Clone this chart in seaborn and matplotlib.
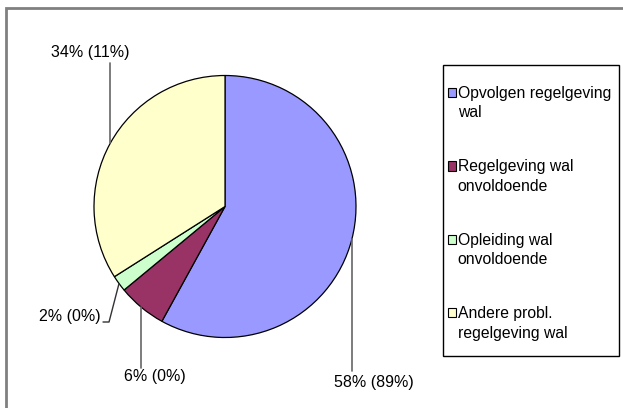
import numpy as np
import matplotlib
matplotlib.use("Agg")
import matplotlib.pyplot as plt
import seaborn as sns
from matplotlib.patches import Patch, Rectangle
from matplotlib.legend_handler import HandlerPatch

# data
categorieen = ["Opvolgen regelgeving\nwal", "Regelgeving wal\nonvoldoende",
               "Opleiding wal\nonvoldoende", "Andere probl.\nregelgeving wal"]
aandeel = [58, 6, 2, 34]
tweede_aandeel = [89, 0, 0, 11]
kleuren = ["#9999FF", "#993366", "#CCFFCC", "#FFFFCC"]

sns.set_theme(style="white")
plt.rcParams["font.family"] = ["Liberation Sans", "DejaVu Sans"]
plt.rcParams["text.color"] = "black"

W, H = 623, 408
fig = plt.figure(figsize=(W / 100, H / 100), dpi=100)
ax = fig.add_axes([0, 0, 1, 1])

# pie in pixel coordinates (y upward)
cx, cy, r = 225, H - 206.5, 131
wedges, _ = ax.pie(aandeel, colors=kleuren, startangle=90, counterclock=False,
                   center=(cx, cy), radius=r, frame=True,
                   wedgeprops=dict(edgecolor="black", linewidth=0.9))
ax.set_xlim(0, W)
ax.set_ylim(0, H)
ax.set_aspect("auto")
ax.axis("off")

# label layout in reference pixels (from top-left)
layout = [
    dict(tx=374, ty=382, ha="center", ly=371),
    dict(tx=155, ty=377, ha="center", ly=368),
    dict(tx=101, ty=317, ha="right", ly=322),
    dict(tx=90, ty=52, ha="center", ly=63),
]
for w, pct, p2, lay in zip(wedges, aandeel, tweede_aandeel, layout):
    mid = np.deg2rad((w.theta1 + w.theta2) / 2)
    ex, ey = cx + r * np.cos(mid), cy + r * np.sin(mid)
    ly = H - lay["ly"]
    if lay["ha"] == "right":
        ax.plot([ex, ex - 10, ex - 16], [ey, ly, ly], color="#333333", lw=1)
    else:
        ax.plot([ex, ex], [ey, ly], color="#666666", lw=1.2)
    ax.text(lay["tx"], H - lay["ty"], f"{pct}% ({p2}%)", ha=lay["ha"], va="center",
            fontsize=11.5, color="black")

# outer chart frame (only left/top visible)
fig.patches.append(Rectangle((5.5 / W, -0.1), 1.2, (H - 7.5) / H + 0.1,
                             transform=fig.transFigure, fill=False,
                             edgecolor="#808080", linewidth=2))

# legend frame
fig.patches.append(Rectangle((442.5 / W, 1 - 355.5 / H), 176 / W, 291 / H,
                             transform=fig.transFigure, fill=False,
                             edgecolor="black", linewidth=1.0))


def square_at_first_line(legend, orig_handle, xdescent, ydescent, width, height, fontsize):
    return Rectangle((-xdescent, -ydescent + 0.7 * fontsize), width, height)


handles = [Patch(facecolor=c, edgecolor="black", linewidth=0.8) for c in kleuren]
leg = fig.legend(handles, categorieen, loc="upper left",
                 bbox_to_anchor=(448 / W, 1 - 86 / H), frameon=False, fontsize=11.3,
                 handlelength=0.52, handleheight=0.52, handletextpad=0.1,
                 labelspacing=2.5, borderpad=0, borderaxespad=0,
                 handler_map={Patch: HandlerPatch(patch_func=square_at_first_line)})
for t in leg.get_texts():
    t.set_linespacing(1.35)
    t.set_color("black")

fig.savefig("out.png", dpi=100)
